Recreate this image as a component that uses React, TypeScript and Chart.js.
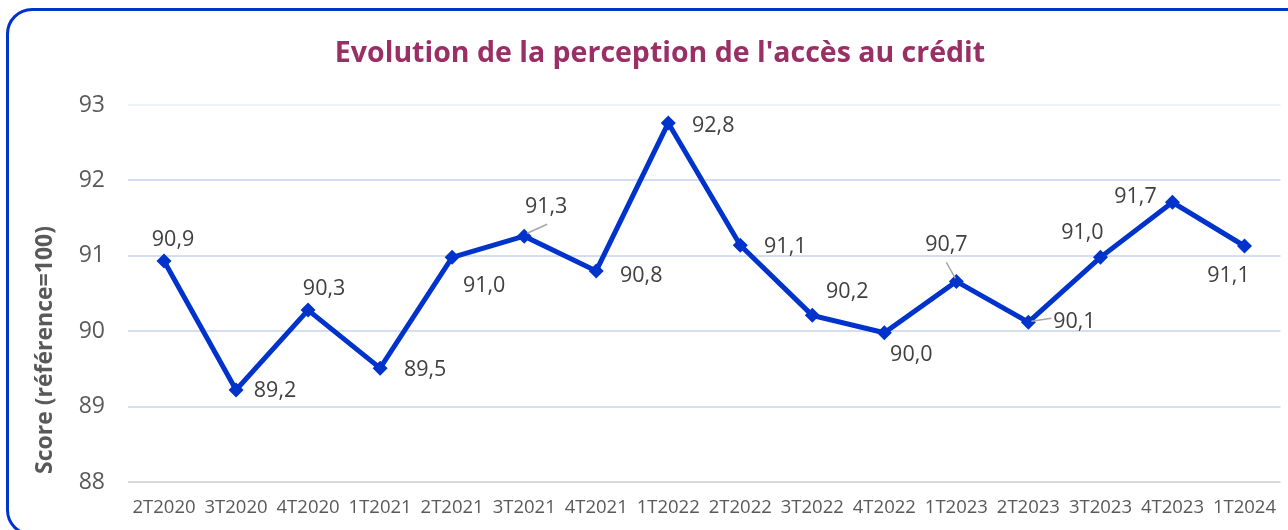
import React, { useEffect, useRef } from "react";
import { Chart, registerables } from "chart.js";

Chart.register(...registerables);

const CATEGORIES = [
  "2T2020", "3T2020", "4T2020", "1T2021", "2T2021", "3T2021", "4T2021", "1T2022",
  "2T2022", "3T2022", "4T2022", "1T2023", "2T2023", "3T2023", "4T2023", "1T2024",
];
const SCORES = [
  90.93, 89.22, 90.28, 89.51, 90.98, 91.26, 90.8, 92.76,
  91.14, 90.21, 89.98, 90.66, 90.12, 90.98, 91.71, 91.13,
];
const Y_TICKS = [88, 89, 90, 91, 92, 93];
const TITLE = "Evolution de la perception de l'accès au crédit";
const Y_TITLE = "Score (référence=100)";

// label placement relative to each point (style, not data)
const LABEL_OFFSETS: [number, number][] = [
  [9, -21], [39, 1], [16, -21], [45, 2], [32, 29], [22, -29], [45, 5], [45, 3],
  [45, 2], [35, -23], [27, 22], [-10, -37], [46, 0], [-18, -24], [-37, -5], [-16, 30],
];
const LEADERS: Record<number, [number, number, number, number]> = {
  5: [3, -3, 23, -12],
  11: [-1, -3, -10, -19],
  12: [3, -1, 23, -4],
};

const FONT = "'Open Sans', sans-serif";
const TEXT = "#595959";

const fmt = (v: number) => v.toFixed(1).replace(".", ",");

const decorPlugin = {
  id: "decor",
  afterDatasetsDraw(chart: any) {
    const ctx = chart.ctx;
    const meta = chart.getDatasetMeta(0);
    ctx.save();
    // leader lines
    ctx.strokeStyle = "#A6A6A6";
    ctx.lineWidth = 1.5;
    Object.keys(LEADERS).forEach((k) => {
      const i = Number(k);
      const p = meta.data[i];
      const [x1, y1, x2, y2] = LEADERS[i];
      ctx.beginPath();
      ctx.moveTo(p.x + x1, p.y + y1);
      ctx.lineTo(p.x + x2, p.y + y2);
      ctx.stroke();
    });
    // data labels
    ctx.fillStyle = "#404040";
    ctx.font = `21.5px ${FONT}`;
    ctx.textAlign = "center";
    ctx.textBaseline = "middle";
    meta.data.forEach((p: any, i: number) => {
      const [dx, dy] = LABEL_OFFSETS[i];
      ctx.fillText(fmt(SCORES[i]), p.x + dx, p.y + dy);
    });
    // title
    ctx.fillStyle = "#9A2F66";
    ctx.font = `bold 28.5px ${FONT}`;
    ctx.fillText(TITLE, 660, 54);
    // y axis title
    ctx.translate(45, 350);
    ctx.rotate(-Math.PI / 2);
    ctx.fillStyle = TEXT;
    ctx.font = `bold 23px ${FONT}`;
    ctx.fillText(Y_TITLE, 0, 0);
    ctx.restore();
  },
};

export default function App() {
  const ref = useRef<HTMLCanvasElement | null>(null);
  useEffect(() => {
    if (!ref.current) return;
    const chart = new Chart(ref.current, {
      type: "line",
      data: {
        labels: CATEGORIES,
        datasets: [
          {
            data: SCORES,
            borderColor: "#0033CC",
            backgroundColor: "#0033CC",
            borderWidth: 5,
            pointStyle: "rectRot",
            pointRadius: 7.5,
            pointBorderWidth: 0,
            tension: 0,
          },
        ],
      },
      options: {
        responsive: false,
        animation: false,
        layout: { padding: { top: 105, left: 0, right: 6, bottom: 0 } },
        plugins: {
          legend: { display: false },
          title: { display: false },
          tooltip: { enabled: false },
        },
        scales: {
          x: {
            offset: true,
            grid: { display: false, drawTicks: false },
            border: { display: false },
            ticks: {
              color: TEXT,
              font: { family: FONT, size: 18.5 },
              padding: 15,
              maxRotation: 0,
              autoSkip: false,
            },
            afterFit: (s: any) => {
              s.height = 48;
              s.paddingLeft = 0;
              s.paddingRight = 0;
            },
          },
          y: {
            min: 88,
            max: 93,
            afterBuildTicks: (s: any) => {
              s.ticks = Y_TICKS.map((v) => ({ value: v }));
            },
            grid: {
              drawTicks: false,
              lineWidth: 2,
              color: (c: any) =>
                c.tick && c.tick.value === 88
                  ? "#D9D9D9"
                  : c.tick && c.tick.value === 93
                  ? "#EEF3FA"
                  : "#D3DFF1",
            },
            border: { display: false },
            ticks: {
              color: TEXT,
              font: { family: FONT, size: 23 },
              padding: 23,
            },
            afterFit: (s: any) => {
              s.width = 128;
            },
          },
        },
      },
      plugins: [decorPlugin],
    });
    return () => chart.destroy();
  }, []);

  return (
    <div style={{ position: "fixed", left: 0, top: 0, width: 1288, height: 530, overflow: "hidden", background: "#fff" }}>
      <div
        style={{
          position: "absolute",
          left: 6,
          top: 8,
          width: 1310,
          height: 528,
          border: "3.5px solid #0033CC",
          borderRadius: 26,
          boxSizing: "border-box",
        }}
      />
      <canvas ref={ref} width={1288} height={530} style={{ position: "absolute", left: 0, top: 0 }} />
    </div>
  );
}
